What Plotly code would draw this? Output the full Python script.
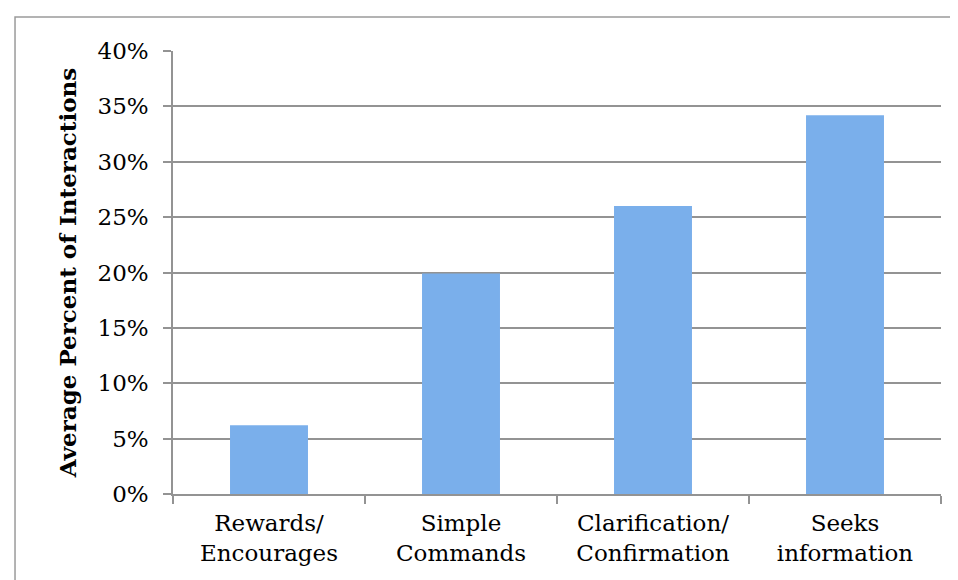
import plotly.graph_objects as go

categories = ["Rewards/<br>Encourages", "Simple<br>Commands", "Clarification/<br>Confirmation", "Seeks<br>information"]
values = [0.062, 0.199, 0.260, 0.342]
y_title = "Average Percent of Interactions"

FONT = "DejaVu Serif"
GRID = "#939393"

fig = go.Figure()
fig.add_trace(go.Bar(
    x=categories,
    y=values,
    marker=dict(color="#7aafeb", line=dict(width=0)),
    hoverinfo="skip",
))

fig.update_layout(
    width=958,
    height=580,
    margin=dict(l=165, r=25, t=43, b=94),
    paper_bgcolor="white",
    plot_bgcolor="white",
    showlegend=False,
    bargap=0.594,
    font=dict(family=FONT, size=23, color="black"),
)

fig.update_xaxes(
    type="category",
    showgrid=False,
    showline=True,
    linecolor=GRID,
    linewidth=1.5,
    ticks="outside",
    tickson="boundaries",
    ticklen=8,
    tickwidth=1.5,
    tickcolor=GRID,
    ticklabelstandoff=8,
    tickfont=dict(family=FONT, size=23, color="black"),
)

fig.update_yaxes(
    range=[0, 0.4],
    dtick=0.05,
    tick0=0,
    tickformat=".0%",
    showgrid=True,
    gridcolor=GRID,
    gridwidth=1.5,
    showline=True,
    linecolor=GRID,
    linewidth=1.5,
    ticks="outside",
    ticklen=8,
    tickwidth=1.5,
    tickcolor=GRID,
    zeroline=False,
    ticklabelstandoff=10,
    tickfont=dict(family=FONT, size=23, color="black"),
    title=dict(text="<b>" + y_title + "</b>", font=dict(family=FONT, size=23, color="black"), standoff=14),
)

# outer chart frame
fig.add_shape(
    type="rect", xref="paper", yref="paper",
    x0=-0.2057, x1=1.2, y0=-0.4, y1=1.0767,
    line=dict(color="#9a9a9a", width=1.5),
    fillcolor="rgba(0,0,0,0)",
    layer="below",
)

fig.write_html("out.html")
